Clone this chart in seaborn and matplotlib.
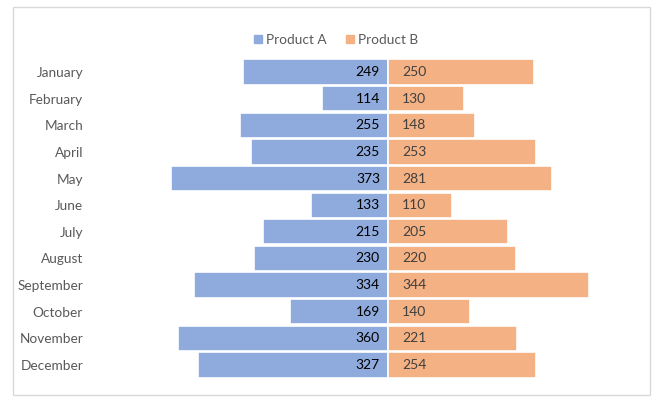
"""
Product A vs Product B 월별 비교 (butterfly chart)
"""
import matplotlib
matplotlib.use('Agg')
import matplotlib.pyplot as plt
import seaborn as sns
import numpy as np
from matplotlib.patches import Rectangle
from matplotlib.lines import Line2D

# 데이터
months = ['January', 'February', 'March', 'April', 'May', 'June', 'July',
          'August', 'September', 'October', 'November', 'December']
product_a = [249, 114, 255, 235, 373, 133, 215, 230, 334, 169, 360, 327]
product_b = [250, 130, 148, 253, 281, 110, 205, 220, 344, 140, 221, 254]

color_a = '#8FAADC'
color_b = '#F4B183'

sns.set_theme(style='white')
plt.rcParams['font.family'] = ['Lato', 'DejaVu Sans']

W, H = 662, 407
fig = plt.figure(figsize=(W / 100, H / 100), dpi=100)

# 축 위치 (픽셀 기준)
left, right, top, bottom = 95, 643, 58.7, 378.3
ax = fig.add_axes([left / W, 1 - bottom / H, (right - left) / W, (bottom - top) / H])

sns.barplot(x=[-v for v in product_a], y=months, orient='y', color=color_a,
            width=0.95, edgecolor='white', linewidth=1.2, saturation=1, ax=ax)
sns.barplot(x=product_b, y=months, orient='y', color=color_b,
            width=0.95, edgecolor='white', linewidth=1.2, saturation=1, ax=ax)

ax.set_xlim(-503, 437)
ax.set_ylim(11.5, -0.5)
ax.set_xticks([])
ax.set_xlabel('')
ax.set_ylabel('')
for s in ax.spines.values():
    s.set_visible(False)
ax.tick_params(axis='y', length=0, pad=8.6, labelsize=9.8, labelcolor='#595959')

# 값 표시
for i, (a, b) in enumerate(zip(product_a, product_b)):
    ax.annotate(f'{a}', xy=(0, i), xytext=(-6, 0), textcoords='offset points',
                ha='right', va='center', fontsize=10, color='#000000')
    ax.annotate(f'{b}', xy=(0, i), xytext=(10, 0), textcoords='offset points',
                ha='left', va='center', fontsize=10, color='#404040')

# 범례
handles = [Line2D([], [], marker='s', linestyle='', markersize=6, color=color_a),
           Line2D([], [], marker='s', linestyle='', markersize=6, color=color_b)]
fig.legend(handles, ['Product A', 'Product B'], loc='center',
           bbox_to_anchor=(0.505, 1 - 40 / H), ncol=2, frameon=False,
           fontsize=9.8, labelcolor='#595959', handletextpad=0.1,
           columnspacing=1.2, handlelength=1.0)

# 차트 테두리
fig.patches.append(Rectangle((13 / W, 1 - 395 / H), (650 - 13) / W, (395 - 7) / H,
                             transform=fig.transFigure, fill=False,
                             edgecolor='#D9D9D9', linewidth=1))

fig.savefig('out.png', dpi=100)
